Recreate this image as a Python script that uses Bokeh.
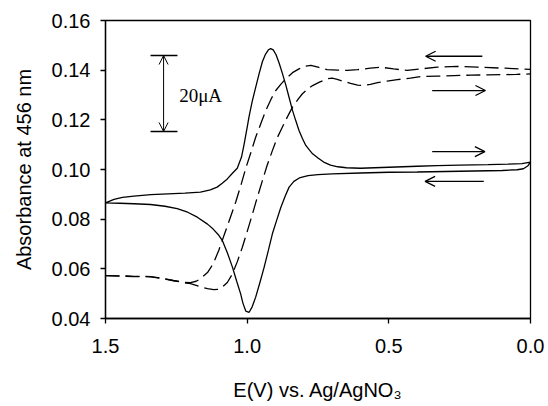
from bokeh.plotting import figure
from bokeh.models import Range1d, FixedTicker, PrintfTickFormatter, Arrow, OpenHead, Label
from bokeh.embed import file_html
from bokeh.resources import INLINE

# ---- data ----
cv_fwd_x = [1.50, 1.47, 1.44, 1.40, 1.34, 1.28, 1.22, 1.165, 1.13, 1.106, 1.088, 1.07, 1.052, 1.035,
            1.02, 1.011, 1.00, 0.993, 0.982, 0.970, 0.958, 0.946, 0.935, 0.925, 0.917, 0.908, 0.898,
            0.887, 0.876, 0.864, 0.852, 0.840, 0.828, 0.817, 0.805, 0.793, 0.78, 0.769, 0.75, 0.73,
            0.706, 0.68, 0.65, 0.60, 0.55, 0.50, 0.45, 0.40, 0.33, 0.25, 0.15, 0.08, 0.03, 0.00]
cv_fwd_y = [0.0866, 0.0880, 0.0888, 0.0893, 0.0899, 0.0902, 0.0905, 0.0909, 0.0918, 0.0929, 0.0945,
            0.0962, 0.0985, 0.1005, 0.1050, 0.1100, 0.1170, 0.1215, 0.1275, 0.1331, 0.1385, 0.1435,
            0.1465, 0.1482, 0.1487, 0.1482, 0.1462, 0.1428, 0.1388, 0.1342, 0.1290, 0.1238, 0.1195,
            0.1157, 0.1125, 0.1097, 0.1078, 0.1063, 0.1046, 0.1030, 0.1018, 0.1011, 0.1007, 0.1005,
            0.1007, 0.1009, 0.1011, 0.1013, 0.1016, 0.1018, 0.1020, 0.1022, 0.1024, 0.1030]
cv_rev_x = [0.00, 0.01, 0.025, 0.047, 0.10, 0.20, 0.30, 0.40, 0.50, 0.60, 0.70, 0.75, 0.785, 0.816,
            0.835, 0.852, 0.866, 0.881, 0.896, 0.911, 0.925, 0.940, 0.955, 0.970, 0.982, 0.993, 1.005,
            1.015, 1.023, 1.037, 1.052, 1.07, 1.088, 1.10, 1.12, 1.14, 1.176, 1.21, 1.247, 1.29, 1.341,
            1.40, 1.45, 1.50]
cv_rev_y = [0.1030, 0.1014, 0.1003, 0.0999, 0.0996, 0.0994, 0.0992, 0.0990, 0.0989, 0.0986, 0.0982,
            0.0979, 0.0975, 0.0966, 0.0952, 0.0929, 0.0892, 0.0848, 0.0795, 0.0741, 0.0675, 0.0607,
            0.0545, 0.0486, 0.0448, 0.0425, 0.0430, 0.0462, 0.0499, 0.0550, 0.0607, 0.0665, 0.0715,
            0.0735, 0.0760, 0.0780, 0.0808, 0.0828, 0.0842, 0.0852, 0.0859, 0.0862, 0.0864, 0.0866]

abs_a_x = [1.50, 1.45, 1.40, 1.34, 1.30, 1.26, 1.22, 1.20, 1.18, 1.165, 1.14, 1.12, 1.10, 1.08, 1.06,
           1.04, 1.02, 1.005, 0.985, 0.97, 0.95, 0.934, 0.915, 0.899, 0.88, 0.864, 0.84, 0.817, 0.795,
           0.775, 0.75, 0.718, 0.68, 0.647, 0.61, 0.565, 0.529, 0.483, 0.435, 0.388, 0.329, 0.259,
           0.188, 0.094, 0.00]
abs_a_y = [0.0573, 0.0572, 0.0570, 0.0569, 0.0562, 0.0553, 0.0545, 0.0544, 0.0550, 0.0560, 0.0585,
           0.0620, 0.0675, 0.0740, 0.0805, 0.0870, 0.0945, 0.1005, 0.1075, 0.1130, 0.1190, 0.1238,
           0.1285, 0.1318, 0.1345, 0.1365, 0.1390, 0.1405, 0.1416, 0.1419, 0.1412, 0.1402, 0.1400,
           0.1399, 0.1402, 0.1408, 0.1412, 0.1405, 0.1399, 0.1405, 0.1412, 0.1415, 0.1412, 0.1408,
           0.1403]

abs_b_x = [1.50, 1.45, 1.40, 1.34, 1.30, 1.26, 1.22, 1.20, 1.165, 1.14, 1.118, 1.10, 1.088, 1.07,
           1.052, 1.035, 1.017, 1.00, 0.981, 0.965, 0.946, 0.93, 0.911, 0.895, 0.876, 0.858, 0.840,
           0.822, 0.805, 0.785, 0.769, 0.745, 0.718, 0.70, 0.682, 0.66, 0.635, 0.61, 0.588, 0.565,
           0.54, 0.506, 0.47, 0.424, 0.388, 0.33, 0.27, 0.21, 0.15, 0.10, 0.05, 0.00]
abs_b_y = [0.0573, 0.0571, 0.0569, 0.0568, 0.0561, 0.0552, 0.0544, 0.0540, 0.0528, 0.0520, 0.0516,
           0.0518, 0.0526, 0.0545, 0.0580, 0.0628, 0.0687, 0.0750, 0.0822, 0.0885, 0.0956, 0.1015,
           0.1076, 0.1125, 0.1170, 0.1212, 0.1251, 0.1280, 0.1305, 0.1325, 0.1338, 0.1352, 0.1365,
           0.1368, 0.1363, 0.1355, 0.1347, 0.1340, 0.1338, 0.1343, 0.1350, 0.1356, 0.1362, 0.1368,
           0.1374, 0.1376, 0.1378, 0.1380, 0.1381, 0.1382, 0.1383, 0.1385]

x_ticks = [1.5, 1.0, 0.5, 0.0]
y_ticks = [0.04, 0.06, 0.08, 0.10, 0.12, 0.14, 0.16]

# scale bar (20 uA) and sweep-direction arrows (annotation positions)
bar_x = 1.295
bar_y0, bar_y1 = 0.1153, 0.1459
bar_cap_x0, bar_cap_x1 = 1.341, 1.246
bar_text = "20\u03bcA"
bar_text_x, bar_text_y = 1.240, 0.1300

dir_x_start = [0.170, 0.347, 0.347, 0.165]
dir_x_end = [0.370, 0.159, 0.161, 0.372]
dir_y = [0.1456, 0.1318, 0.1072, 0.0952]

FONT = "Liberation Sans"

p = figure(width=548, height=406, x_range=Range1d(1.5, 0.0), y_range=Range1d(0.04, 0.16),
           output_backend="svg", toolbar_location=None,
           min_border_left=105, min_border_right=18, min_border_top=20, min_border_bottom=88)
p.background_fill_color = "white"
p.border_fill_color = "white"
p.xgrid.visible = False
p.ygrid.visible = False
p.outline_line_color = "black"
p.outline_line_width = 1.3
p.outline_line_alpha = 1.0

for ax in (p.xaxis[0], p.yaxis[0]):
    ax.axis_line_color = "black"
    ax.axis_line_width = 1.3
    ax.major_tick_line_color = "black"
    ax.major_tick_line_width = 1.3
    ax.major_tick_in = 0
    ax.major_tick_out = 5
    ax.minor_tick_line_color = None
    ax.major_label_text_font = FONT
    ax.major_label_text_font_size = "20px"
    ax.major_label_text_color = "black"
    ax.axis_label_text_font = FONT
    ax.axis_label_text_font_size = "20px"
    ax.axis_label_text_font_style = "normal"
    ax.axis_label_text_color = "black"

p.xaxis.ticker = FixedTicker(ticks=x_ticks)
p.xaxis.formatter = PrintfTickFormatter(format="%.1f")
p.xaxis.axis_label = "E(V) vs. Ag/AgNO\u2083"
p.xaxis.major_label_standoff = 15
p.xaxis.axis_label_standoff = 23

p.yaxis.ticker = FixedTicker(ticks=y_ticks)
p.yaxis.formatter = PrintfTickFormatter(format="%.2f")
p.yaxis.axis_label = "Absorbance at 456 nm"
p.yaxis.major_label_standoff = 10
p.yaxis.axis_label_standoff = 14

# cyclic voltammogram (solid) and absorbance (dashed)
cv_x = cv_fwd_x + cv_rev_x
cv_y = cv_fwd_y + cv_rev_y
p.line(cv_x, cv_y, line_color="black", line_width=1.3)
p.line(abs_a_x, abs_a_y, line_color="black", line_width=1.3, line_dash="14 6")
p.line(abs_b_x, abs_b_y, line_color="black", line_width=1.3, line_dash="14 6")

# scale bar
p.add_layout(Arrow(x_start=bar_x, y_start=bar_y0, x_end=bar_x, y_end=bar_y1,
                   line_color="black", line_width=1.0,
                   start=OpenHead(size=9, line_color="black", line_width=1.0),
                   end=OpenHead(size=9, line_color="black", line_width=1.0)))
p.segment(x0=[bar_cap_x0, bar_cap_x0], y0=[bar_y0, bar_y1], x1=[bar_cap_x1, bar_cap_x1],
          y1=[bar_y0, bar_y1], line_color="black", line_width=1.3)
p.add_layout(Label(x=bar_text_x, y=bar_text_y, text=bar_text, text_font="Liberation Serif",
                   text_font_size="19px", text_color="black", text_baseline="middle",
                   text_align="left"))

# sweep direction arrows
for xs, xe, yy in zip(dir_x_start, dir_x_end, dir_y):
    p.add_layout(Arrow(x_start=xs, y_start=yy, x_end=xe, y_end=yy,
                       line_color="black", line_width=1.3,
                       end=OpenHead(size=10, line_color="black", line_width=1.3)))

open("out.html", "w").write(file_html(p, INLINE))
